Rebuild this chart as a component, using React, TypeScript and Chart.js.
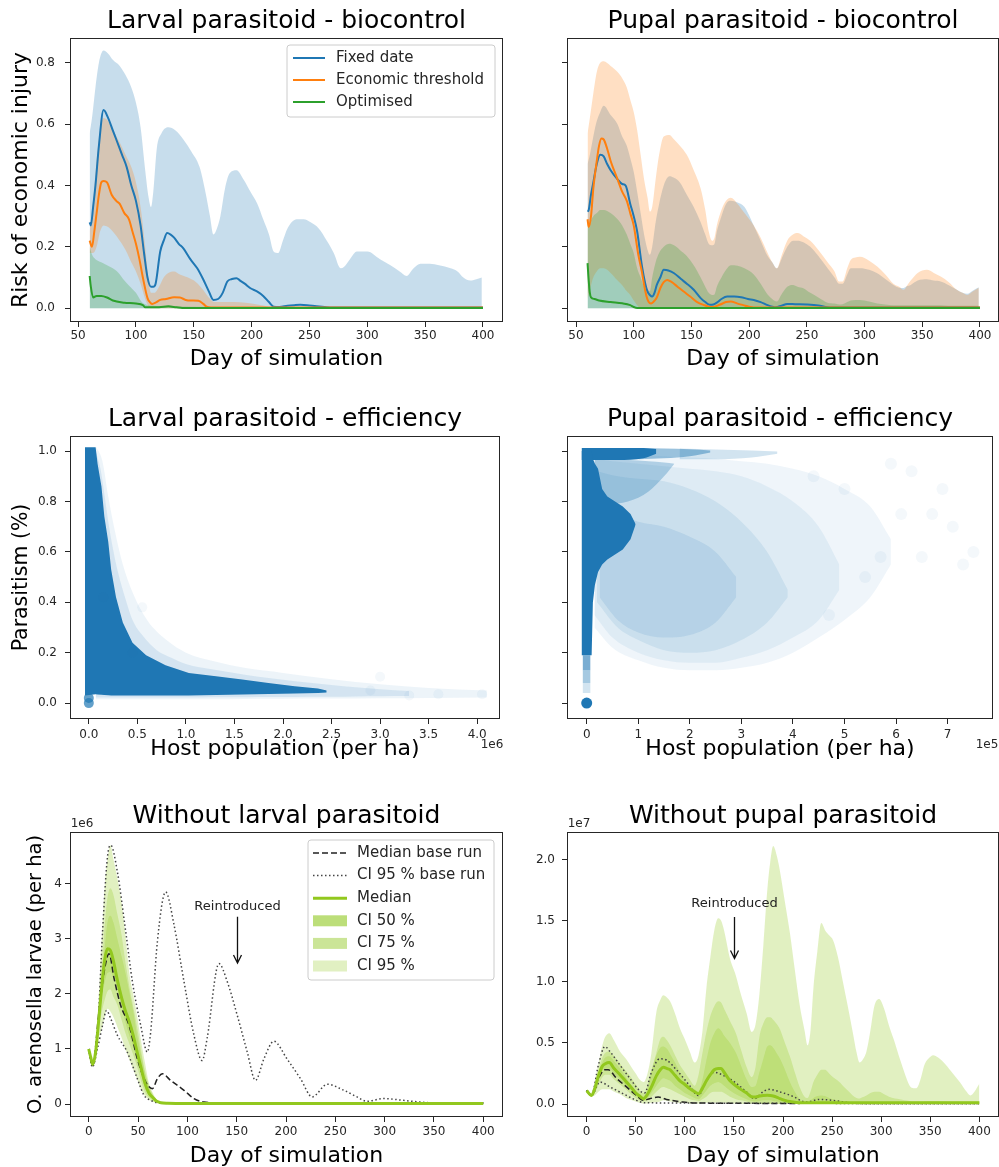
import { useEffect, useRef } from "react";
import { Chart, registerables } from "chart.js";

Chart.register(...registerables);

const FONT = '"DejaVu Sans", sans-serif';

// ================= Panel 1 : Larval parasitoid - biocontrol =================
const P1_FIX_X = [60,61,63,65,68,72,76,80,83,88,92,96,100,104,107,110,113,115,117,121,124,127,130,133,137,141,147,153,158,163,167,171,175,179,183,187,190,194,199,205,210,215,219,224,231,237,242,248,256,265,280,300,400];
const P1_FIX_Y = [0.28,0.27,0.33,0.40,0.53,0.646,0.62,0.58,0.55,0.50,0.46,0.40,0.35,0.27,0.18,0.10,0.07,0.07,0.08,0.185,0.22,0.245,0.24,0.23,0.21,0.195,0.16,0.13,0.095,0.055,0.027,0.03,0.05,0.087,0.095,0.098,0.09,0.08,0.065,0.054,0.04,0.02,0.005,0.004,0.008,0.01,0.011,0.01,0.006,0.003,0.002,0.002,0.002];
const P1_ECO_X = [60,62,64,66,68,70,72,75,79,83,86,90,94,97,100,103,106,110,112,114,117,121,126,133,138,143,148,154,158,161,165,400];
const P1_ECO_Y = [0.22,0.20,0.25,0.31,0.37,0.41,0.415,0.41,0.37,0.35,0.34,0.31,0.29,0.25,0.21,0.16,0.10,0.033,0.02,0.014,0.018,0.027,0.03,0.036,0.035,0.027,0.025,0.024,0.015,0.005,0.002,0.002];
const P1_OPT_X = [60,61,63,66,70,75,80,90,100,106,108,120,128,135,140,400];
const P1_OPT_Y = [0.105,0.07,0.035,0.04,0.04,0.035,0.025,0.018,0.015,0.01,0.003,0.003,0.006,0.003,0.001,0.001];
const P1_BB_X = [60,62,65,68,72,76,80,86,91,96,100,104,108,111,113,115,118,122,128,134,141,148,155,160,164,167,170,173,177,181,187,193,199,205,210,215,219,223,227,231,239,245,251,258,265,271,277,280,285,291,300,311,320,328,334,340,346,354,362,372,378,383,389,395,399];
const P1_BB_HI = [0.57,0.62,0.72,0.80,0.84,0.83,0.81,0.79,0.76,0.72,0.67,0.59,0.45,0.36,0.33,0.38,0.52,0.57,0.59,0.58,0.55,0.51,0.46,0.38,0.30,0.24,0.26,0.30,0.39,0.44,0.45,0.42,0.38,0.34,0.29,0.24,0.185,0.18,0.22,0.26,0.29,0.29,0.28,0.26,0.22,0.18,0.13,0.135,0.16,0.185,0.185,0.16,0.14,0.12,0.105,0.13,0.145,0.145,0.14,0.13,0.12,0.10,0.09,0.095,0.10];
const P1_OB_X = [60,63,66,69,72,76,80,86,91,96,100,104,108,111,113,116,120,124,128,133,138,145,152,158,163,168,175,185,195,205,215,222];
const P1_OB_HI = [0.25,0.35,0.48,0.58,0.62,0.61,0.58,0.54,0.50,0.46,0.41,0.33,0.20,0.09,0.05,0.05,0.07,0.10,0.115,0.12,0.11,0.10,0.085,0.06,0.035,0.02,0.02,0.02,0.018,0.012,0.005,0.0];
const P1_OB_LO = [0.18,0.18,0.20,0.25,0.27,0.265,0.25,0.22,0.19,0.15,0.12,0.08,0.03,0.005,0,0,0,0,0,0,0,0,0,0,0,0,0,0,0,0,0,0];
const P1_GB_X = [60,62,65,70,75,80,85,90,95,100,105,110,115,120,130,150,200,300,400];
const P1_GB_HI = [0.2,0.175,0.16,0.15,0.14,0.13,0.115,0.09,0.07,0.05,0.02,0.01,0.008,0.007,0.006,0.005,0.004,0.003,0.003];

// ================= Panel 2 : Pupal parasitoid - biocontrol =================
const P2_FIX_X = [60,61,63,65,68,71,74,77,80,86,90,93,97,100,103,107,110,112,114,116,118,120,123,126,130,135,141,146,152,158,162,166,169,172,176,181,187,193,199,204,210,216,220,223,228,233,240,250,260,268,280,400];
const P2_FIX_Y = [0.315,0.32,0.37,0.41,0.47,0.50,0.495,0.47,0.45,0.42,0.405,0.40,0.34,0.30,0.25,0.14,0.08,0.054,0.043,0.038,0.05,0.076,0.10,0.125,0.123,0.114,0.095,0.08,0.06,0.033,0.02,0.011,0.012,0.018,0.03,0.038,0.038,0.036,0.03,0.027,0.02,0.01,0.005,0.003,0.008,0.014,0.013,0.012,0.009,0.003,0.002,0.002];
const P2_ECO_X = [60,61,63,65,68,70,72,74,77,80,86,90,94,97,100,104,107,109,111,113,115,117,120,123,126,129,133,138,143,149,155,161,165,169,175,180,184,190,195,200,207,400];
const P2_ECO_Y = [0.29,0.265,0.30,0.39,0.48,0.53,0.553,0.55,0.52,0.48,0.42,0.38,0.35,0.31,0.27,0.174,0.12,0.076,0.04,0.02,0.015,0.02,0.035,0.065,0.085,0.092,0.085,0.07,0.055,0.038,0.02,0.01,0.005,0.004,0.012,0.02,0.022,0.015,0.01,0.005,0.002,0.002];
const P2_OPT_X = [60,61,62,63,66,70,80,90,97,100,103,400];
const P2_OPT_Y = [0.147,0.09,0.05,0.035,0.03,0.025,0.02,0.016,0.01,0.004,0.001,0.001];
const P2_B_X = [60,62,65,68,71,74,80,86,90,94,97,100,103,106,109,112,114,116,119,122,126,131,135,140,146,152,158,162,165,168,170,172,176,180,184,190,196,204,210,216,220,224,228,233,238,242,247,253,260,268,274,278,281,285,288,292,296,304,311,318,325,330,334,337,340,346,354,360,366,373,380,385,389,394,399];
const P2_BB_HI = [0.47,0.50,0.56,0.61,0.64,0.66,0.63,0.60,0.56,0.53,0.49,0.445,0.38,0.31,0.24,0.19,0.174,0.20,0.28,0.34,0.40,0.43,0.425,0.41,0.37,0.33,0.28,0.24,0.21,0.205,0.21,0.25,0.30,0.34,0.35,0.345,0.33,0.27,0.22,0.17,0.15,0.13,0.16,0.20,0.22,0.22,0.215,0.20,0.17,0.13,0.10,0.08,0.08,0.11,0.13,0.13,0.13,0.125,0.114,0.095,0.076,0.067,0.066,0.072,0.076,0.09,0.094,0.09,0.087,0.075,0.06,0.05,0.047,0.058,0.068];
const P2_OB_HI = [0.57,0.62,0.70,0.77,0.80,0.805,0.79,0.77,0.75,0.72,0.68,0.64,0.58,0.50,0.42,0.36,0.315,0.33,0.42,0.50,0.56,0.565,0.55,0.53,0.50,0.45,0.39,0.32,0.25,0.22,0.23,0.27,0.32,0.35,0.36,0.34,0.31,0.27,0.23,0.18,0.15,0.13,0.17,0.22,0.24,0.245,0.235,0.22,0.19,0.15,0.12,0.087,0.087,0.13,0.157,0.165,0.168,0.155,0.136,0.11,0.08,0.07,0.06,0.075,0.09,0.115,0.125,0.115,0.103,0.085,0.06,0.05,0.043,0.055,0.067];
const P2_OB_LO = [0.03,0.06,0.10,0.12,0.13,0.13,0.115,0.09,0.075,0.055,0.043,0.025,0.01,0,0,0,0,0,0,0,0,0,0,0,0,0,0,0,0,0,0,0,0,0,0,0,0,0,0,0,0,0,0,0,0,0,0,0,0,0,0,0,0,0,0,0,0,0,0,0,0,0,0,0,0,0,0,0,0,0,0,0,0,0,0];
const P2_GB_HI = [0.27,0.28,0.30,0.31,0.32,0.32,0.31,0.29,0.27,0.24,0.21,0.18,0.13,0.10,0.07,0.06,0.055,0.10,0.15,0.18,0.20,0.21,0.205,0.19,0.17,0.14,0.10,0.07,0.05,0.043,0.045,0.07,0.10,0.125,0.14,0.138,0.13,0.11,0.08,0.045,0.03,0.022,0.045,0.07,0.076,0.07,0.065,0.05,0.035,0.018,0.015,0.012,0.013,0.02,0.025,0.027,0.027,0.022,0.015,0.012,0.01,0.01,0.01,0.01,0.01,0.01,0.01,0.01,0.01,0.008,0.008,0.008,0.008,0.008,0.008];

// ================= Panel 3 : Larval parasitoid - efficiency (x in 1e6) =================
const P3_DENSE_X = [-0.04,0.07,0.09,0.13,0.16,0.20,0.23,0.28,0.35,0.45,0.59,0.79,1.03,1.31,1.58,1.85,2.12,2.36,2.45];
const P3_DENSE_HI = [1.015,1.015,0.95,0.86,0.74,0.64,0.53,0.42,0.32,0.24,0.19,0.15,0.12,0.107,0.094,0.08,0.067,0.058,0.05];
const P3_DENSE_LO = [0.03,0.035,0.034,0.033,0.032,0.031,0.03,0.03,0.03,0.03,0.03,0.03,0.03,0.032,0.034,0.036,0.038,0.04,0.042];
const P3_HALO1_X = [0.07,0.14,0.2,0.27,0.35,0.45,0.6,0.8,1.0,1.3,1.6,2.0,2.5,3.0,3.5,4.1];
const P3_HALO1_HI = [1.02,0.96,0.82,0.68,0.55,0.44,0.33,0.25,0.2,0.165,0.14,0.12,0.095,0.075,0.06,0.05];
const P3_HALO1_LO = [0.015,0.015,0.015,0.015,0.015,0.015,0.015,0.015,0.015,0.015,0.016,0.017,0.018,0.019,0.02,0.022];
const P3_HALO2_X = [0.07,0.12,0.16,0.2,0.25,0.3,0.38,0.45,0.55,0.7,0.85,1.0,1.25,1.5,1.75,2.0,2.25,2.5,2.75,3.0,3.3];
const P3_HALO2_HI = [1.0,0.93,0.83,0.72,0.61,0.52,0.41,0.33,0.27,0.21,0.18,0.155,0.135,0.12,0.105,0.093,0.082,0.072,0.063,0.055,0.048];
const P3_HALO2_LO = [0.022,0.022,0.022,0.022,0.022,0.022,0.022,0.022,0.022,0.022,0.022,0.022,0.023,0.023,0.024,0.024,0.025,0.025,0.026,0.027,0.028];
const P3_OUT_X = [3.0,0.15,0.55,3.6,4.05,3.3,2.9,0.45];
const P3_OUT_Y = [0.105,0.42,0.38,0.035,0.035,0.03,0.05,0.2];
const P3_ZERO_X = [0, 0];
const P3_ZERO_Y = [0, 0.02];

// ================= Panel 4 : Pupal parasitoid - efficiency (x in 1e5) =================
const P4_L1_X = [0.15,0.5,1.0,1.5,2.0,2.5,3.0,3.5,4.0,4.5,5.0,5.5,5.9];
const P4_L1_HI = [0.99,0.99,0.985,0.98,0.975,0.97,0.96,0.95,0.93,0.9,0.85,0.78,0.65];
const P4_L1_LO = [0.3,0.22,0.17,0.14,0.13,0.13,0.14,0.16,0.2,0.26,0.33,0.42,0.55];
const P4_L2_X = [0.15,0.5,1.0,1.5,2.0,2.5,3.0,3.5,4.0,4.5,4.9];
const P4_L2_HI = [0.97,0.96,0.95,0.94,0.93,0.92,0.9,0.86,0.8,0.7,0.55];
const P4_L2_LO = [0.35,0.26,0.2,0.17,0.16,0.16,0.18,0.21,0.26,0.33,0.45];
const P4_L3_X = [0.2,0.6,1.0,1.5,2.0,2.5,3.0,3.5,3.9];
const P4_L3_HI = [0.92,0.9,0.89,0.88,0.85,0.8,0.72,0.6,0.45];
const P4_L3_LO = [0.4,0.3,0.25,0.21,0.2,0.21,0.25,0.32,0.42];
const P4_L4_X = [0.25,0.6,1.0,1.5,2.0,2.5,2.9];
const P4_L4_HI = [0.8,0.75,0.72,0.7,0.66,0.6,0.5];
const P4_L4_LO = [0.42,0.33,0.28,0.26,0.27,0.32,0.42];
const P4_SEMI_X = [0.15,0.4,0.8,1.2,1.5,1.7];
const P4_SEMI_HI = [0.975,0.97,0.965,0.96,0.955,0.95];
const P4_SEMI_LO = [0.8,0.79,0.8,0.84,0.9,0.95];
const P4_TOPA_X = [-0.1,0.6,1.1,1.35];
const P4_TOPA_HI = [1.012,1.012,1.012,1.008];
const P4_TOPA_LO = [0.965,0.965,0.972,0.99];
const P4_TOPB_X = [1.0,1.5,2.0,2.4];
const P4_TOPB_HI = [1.012,1.01,1.007,1.002];
const P4_TOPB_LO = [0.968,0.972,0.98,0.995];
const P4_TOPC_X = [1.8,2.5,3.2,3.7];
const P4_TOPC_HI = [1.01,1.006,1.002,0.998];
const P4_TOPC_LO = [0.968,0.968,0.975,0.99];
const P4_DENSE_X = [-0.1,0.096,0.12,0.16,0.22,0.3,0.4,0.55,0.7,0.85,0.95];
const P4_DENSE_HI = [1.0,1.0,0.97,0.95,0.93,0.85,0.82,0.8,0.78,0.75,0.71];
const P4_DENSE_LO = [0.19,0.19,0.4,0.47,0.52,0.55,0.57,0.59,0.61,0.65,0.71];
const P4_FADE_X = [-0.08,0.075];
const P4_FADE1_HI = [0.19,0.19];
const P4_FADE1_LO = [0.13,0.13];
const P4_FADE2_HI = [0.13,0.13];
const P4_FADE2_LO = [0.08,0.08];
const P4_FADE3_HI = [0.08,0.08];
const P4_FADE3_LO = [0.04,0.04];
const P4_OUT_X = [6.3,6.9,7.5,7.3,6.5,5.7,5.0,4.4,6.1,7.1,5.4,4.7,5.9,6.7];
const P4_OUT_Y = [0.92,0.85,0.6,0.55,0.58,0.58,0.85,0.9,0.75,0.7,0.5,0.35,0.95,0.75];
const P4_ZERO_X = [0];
const P4_ZERO_Y = [0];

// ================= Panel 5 : Without larval parasitoid (y in 1e6) =================
const P5_X = [0,2,4,7,10,13,16,19,22,25,29,33,37,41,45,49,53,57,61,65,69,73,80,100,150,200,300,400];
const P5_MED = [1.0,0.85,0.72,0.95,1.5,2.1,2.6,2.82,2.79,2.6,2.25,1.95,1.7,1.5,1.25,0.95,0.66,0.38,0.2,0.12,0.05,0.025,0.015,0.01,0.01,0.01,0.01,0.01];
const P5_C95_HI = [1.02,0.88,0.74,1.05,1.9,2.9,3.9,4.45,4.7,4.45,4.1,3.7,3.1,2.4,2.0,1.6,1.15,0.75,0.38,0.2,0.08,0.04,0.02,0.02,0.02,0.02,0.02,0.02];
const P5_C95_LO = [0.98,0.84,0.70,0.9,1.2,1.35,1.58,1.73,1.68,1.58,1.4,1.22,1.0,0.82,0.63,0.45,0.27,0.15,0.08,0.04,0.02,0.01,0.005,0.005,0.005,0.005,0.005,0.005];
const P5_C75_HI = [1.01,0.87,0.73,1.0,1.7,2.4,3.2,3.75,3.92,3.8,3.45,3.1,2.6,2.15,1.78,1.4,0.98,0.6,0.35,0.17,0.08,0.035,0.018,0.015,0.015,0.015,0.015,0.015];
const P5_C75_LO = [0.99,0.85,0.71,0.92,1.3,1.65,1.88,2.05,2.08,1.95,1.8,1.55,1.3,1.1,0.9,0.68,0.42,0.22,0.12,0.06,0.025,0.012,0.008,0.007,0.007,0.007,0.007,0.007];
const P5_C50_HI = [1.0,0.86,0.72,0.97,1.55,2.2,2.8,3.3,3.42,3.3,3.0,2.7,2.4,2.05,1.7,1.25,0.9,0.56,0.3,0.15,0.07,0.03,0.015,0.012,0.012,0.012,0.012,0.012];
const P5_C50_LO = [0.995,0.855,0.715,0.93,1.4,1.9,2.2,2.38,2.4,2.3,2.1,1.8,1.5,1.25,1.05,0.8,0.55,0.3,0.16,0.08,0.035,0.015,0.01,0.008,0.008,0.008,0.008,0.008];
const P5_BMED_X = [0,4,10,15.6,20.6,25.7,32.4,40.9,49.3,57.8,64.5,69.6,74.6,83,96.6,106.7,116.8,133.7,400];
const P5_BMED_Y = [1.0,0.70,1.61,2.4,2.73,2.28,1.79,1.43,0.82,0.40,0.28,0.46,0.55,0.43,0.25,0.10,0.036,0.02,0.02];
const P5_BHI_X = [0,3.7,8.8,14,19,22.3,29,37.5,44.3,52.7,59.4,62.8,69.6,78,86.5,96.6,106.7,115,120,132,140.5,150.6,160.7,169,177.6,187.7,201,214.7,226.6,241.8,258.6,272,282,299,319,336,353,400];
const P5_BHI_Y = [1.0,0.70,1.25,3.13,4.49,4.70,4.22,3.13,2.22,1.43,0.945,1.31,2.95,3.85,3.25,2.22,1.25,0.79,1.19,2.55,2.22,1.61,0.945,0.43,0.82,1.14,0.82,0.46,0.13,0.36,0.25,0.13,0.05,0.10,0.067,0.036,0.02,0.02];
const P5_BLO_X = [0,3.7,8.8,14,18,22.3,29,39,49.3,56,62.8,72,400];
const P5_BLO_Y = [1.0,0.67,1.0,1.43,1.70,1.55,1.25,0.945,0.46,0.16,0.067,0.02,0.02];

// ================= Panel 6 : Without pupal parasitoid (y in 1e7) =================
const P6_X = [0,5,8,12,16,19,23,28,34,40,45,50,54,58,62,66,71,75,78,82,85,90,95,100,105,110,114,118,122,126,130,134,137,140,146,152,157,163,168,172,176,180,184,187,190,194,197,202,207,212,217,222,225,228,231,235,239,243,247,251,256,261,266,271,275,278,281,285,289,293,298,303,308,314,319,324,329,333,336,340,344,348,353,358,366,373,380,386,391,395,400];
const P6_MED = [0.11,0.07,0.12,0.23,0.31,0.33,0.34,0.29,0.24,0.185,0.14,0.09,0.065,0.044,0.08,0.14,0.23,0.28,0.30,0.29,0.28,0.235,0.19,0.16,0.126,0.10,0.085,0.13,0.19,0.24,0.28,0.29,0.29,0.26,0.19,0.15,0.12,0.09,0.06,0.058,0.065,0.07,0.072,0.07,0.066,0.055,0.044,0.03,0.02,0.015,0.01,0.01,0.01,0.01,0.01,0.01,0.01,0.01,0.01,0.01,0.01,0.01,0.01,0.01,0.01,0.01,0.01,0.01,0.01,0.01,0.01,0.01,0.01,0.01,0.01,0.01,0.01,0.01,0.01,0.01,0.01,0.01,0.01,0.01,0.01,0.01,0.01,0.01,0.01,0.01,0.01];
const P6_C95_HI = [0.11,0.07,0.18,0.33,0.48,0.55,0.58,0.52,0.43,0.37,0.31,0.25,0.20,0.18,0.25,0.42,0.75,0.85,0.89,0.87,0.84,0.74,0.62,0.53,0.43,0.34,0.40,0.60,0.95,1.20,1.42,1.52,1.50,1.42,1.19,1.05,0.90,0.74,0.59,0.65,0.90,1.30,1.75,1.98,2.11,2.02,1.90,1.65,1.40,1.10,0.81,0.60,0.48,0.60,0.95,1.25,1.48,1.42,1.38,1.34,1.20,1.00,0.80,0.59,0.42,0.34,0.36,0.43,0.60,0.80,0.86,0.78,0.64,0.50,0.37,0.25,0.15,0.13,0.13,0.20,0.32,0.37,0.40,0.38,0.32,0.25,0.18,0.11,0.07,0.10,0.167];
const P6_C95_LO = [0.09,0.065,0.07,0.10,0.12,0.12,0.12,0.10,0.08,0.05,0.035,0.02,0.01,0.005,0.005,0.01,0.015,0.02,0.03,0.025,0.02,0.015,0.01,0.01,0.005,0.005,0.005,0.005,0.01,0.01,0.01,0.01,0.01,0.01,0.005,0.005,0,0,0,0,0,0,0,0,0,0,0,0,0,0,0,0,0,0,0,0,0,0,0,0,0,0,0,0,0,0,0,0,0,0,0,0,0,0,0,0,0,0,0,0,0,0,0,0,0,0,0,0,0,0,0];
const P6_C75_HI = [0.105,0.07,0.15,0.28,0.38,0.42,0.43,0.39,0.33,0.27,0.22,0.16,0.11,0.09,0.15,0.27,0.42,0.53,0.55,0.52,0.48,0.40,0.32,0.26,0.20,0.15,0.24,0.42,0.59,0.72,0.80,0.84,0.83,0.78,0.68,0.58,0.45,0.30,0.22,0.30,0.55,0.66,0.71,0.71,0.69,0.65,0.61,0.50,0.39,0.26,0.14,0.06,0.05,0.10,0.18,0.24,0.28,0.28,0.25,0.22,0.19,0.15,0.11,0.07,0.05,0.045,0.055,0.07,0.09,0.10,0.10,0.08,0.06,0.045,0.04,0.03,0.025,0.02,0.02,0.02,0.022,0.025,0.025,0.025,0.022,0.02,0.02,0.02,0.02,0.02,0.02];
const P6_C75_LO = [0.095,0.068,0.09,0.16,0.22,0.24,0.24,0.20,0.16,0.12,0.08,0.05,0.03,0.02,0.03,0.06,0.10,0.13,0.14,0.13,0.12,0.10,0.08,0.06,0.04,0.03,0.025,0.04,0.06,0.09,0.10,0.10,0.10,0.09,0.06,0.04,0.03,0.02,0.01,0.005,0.003,0.003,0.003,0.003,0.003,0.003,0.003,0.003,0.003,0.003,0.003,0.003,0.003,0.003,0.003,0.003,0.003,0.003,0.003,0.003,0.003,0.003,0.003,0.003,0.003,0.003,0.003,0.003,0.003,0.003,0.003,0.003,0.003,0.003,0.003,0.003,0.003,0.003,0.003,0.003,0.003,0.003,0.003,0.003,0.003,0.003,0.003,0.003,0.003,0.003,0.003];
const P6_C50_HI = [0.10,0.07,0.13,0.25,0.34,0.38,0.39,0.35,0.29,0.22,0.16,0.11,0.08,0.065,0.12,0.27,0.40,0.46,0.47,0.45,0.41,0.34,0.26,0.19,0.15,0.12,0.10,0.20,0.36,0.50,0.58,0.62,0.60,0.56,0.50,0.42,0.32,0.20,0.14,0.15,0.26,0.37,0.47,0.48,0.46,0.41,0.37,0.28,0.18,0.10,0.04,0.015,0.015,0.03,0.05,0.065,0.07,0.065,0.05,0.04,0.03,0.025,0.02,0.015,0.015,0.015,0.015,0.015,0.015,0.015,0.015,0.015,0.015,0.015,0.015,0.015,0.015,0.015,0.015,0.015,0.015,0.015,0.015,0.015,0.015,0.015,0.015,0.015,0.015,0.015,0.015];
const P6_C50_LO = [0.10,0.07,0.10,0.20,0.27,0.29,0.29,0.25,0.20,0.15,0.11,0.07,0.04,0.03,0.05,0.09,0.15,0.19,0.21,0.20,0.19,0.15,0.12,0.09,0.07,0.05,0.04,0.07,0.11,0.15,0.17,0.18,0.17,0.15,0.11,0.08,0.06,0.04,0.025,0.02,0.025,0.03,0.03,0.03,0.025,0.02,0.015,0.01,0.005,0.005,0.005,0.005,0.005,0.005,0.005,0.005,0.005,0.005,0.005,0.005,0.005,0.005,0.005,0.005,0.005,0.005,0.005,0.005,0.005,0.005,0.005,0.005,0.005,0.005,0.005,0.005,0.005,0.005,0.005,0.005,0.005,0.005,0.005,0.005,0.005,0.005,0.005,0.005,0.005,0.005,0.005];
const P6_BMED_X = [0,5,12,18.6,22,30.5,40.6,50.8,57.6,64.4,72.8,81.3,98,115,217];
const P6_BMED_Y = [0.11,0.07,0.21,0.28,0.28,0.21,0.14,0.07,0.03,0.044,0.057,0.038,0.016,0.008,0.005];
const P6_BHI_X = [0,5,12,18.6,23.7,33.8,44,54,59,66,74.5,81.3,91.5,105,113.5,122,130,139,149,162.7,171,179.6,186,196.6,210,223.7,237,251,268,285,400];
const P6_BHI_Y = [0.11,0.07,0.32,0.47,0.43,0.32,0.21,0.11,0.09,0.26,0.37,0.36,0.28,0.15,0.07,0.19,0.26,0.235,0.19,0.10,0.044,0.10,0.12,0.10,0.063,0.016,0.038,0.03,0.01,0.003,0.003];
const P6_BLO_X = [0,5,13.5,23.7,37,50.8,59,400];
const P6_BLO_Y = [0.11,0.07,0.18,0.14,0.085,0.03,0.01,0.005];

// ================= ticks =================
const DAY_TICKS_A = [50,100,150,200,250,300,350,400];
const DAY_LABELS_A = ["50","100","150","200","250","300","350","400"];
const DAY_TICKS_B = [0,50,100,150,200,250,300,350,400];
const DAY_LABELS_B = ["0","50","100","150","200","250","300","350","400"];
const RISK_TICKS = [0,0.2,0.4,0.6,0.8];
const RISK_LABELS = ["0.0","0.2","0.4","0.6","0.8"];
const PAR_TICKS = [0,0.2,0.4,0.6,0.8,1.0];
const PAR_LABELS = ["0.0","0.2","0.4","0.6","0.8","1.0"];
const HOST6_TICKS = [0,0.5,1,1.5,2,2.5,3,3.5,4];
const HOST6_LABELS = ["0.0","0.5","1.0","1.5","2.0","2.5","3.0","3.5","4.0"];
const HOST5_TICKS = [0,1,2,3,4,5,6,7];
const HOST5_LABELS = ["0","1","2","3","4","5","6","7"];
const LARV_TICKS = [0,1,2,3,4];
const LARV_LABELS = ["0","1","2","3","4"];
const PUP_TICKS = [0,0.5,1,1.5,2];
const PUP_LABELS = ["0.0","0.5","1.0","1.5","2.0"];

// ================= colours =================
const DARK = "#262626";
const BLUE = "#1f77b4", ORANGE = "#ff7f0e", GREEN = "#2ca02c";
const BLUE_A = "rgba(31,119,180,0.25)", ORANGE_A = "rgba(255,127,14,0.25)", GREEN_A = "rgba(44,160,44,0.25)";
const SC = (a: number) => `rgba(31,119,180,${a})`;
const YG_LINE = "rgb(146,200,30)";
const YG_A = "rgba(154,205,50,0.3)";
const CI50_C = "rgb(188,222,121)", CI75_C = "rgb(203,229,151)", CI95_C = "rgb(225,240,194)";

// ================= dataset helpers =================
const pts = (xs: number[], ys: number[]) => xs.map((x, i) => ({ x, y: ys[i] }));
const base: any = { pointRadius: 0, pointHoverRadius: 0, pointHitRadius: 0, spanGaps: true, tension: 0 };
const interp = (s: boolean) => (s ? "monotone" : "default");
function line(xs: number[], ys: number[], color: string, width: number, dash: number[] = [], smooth = true) {
  return { ...base, data: pts(xs, ys), borderColor: color, backgroundColor: color, borderWidth: width, borderDash: dash, fill: false, cubicInterpolationMode: interp(smooth), borderCapStyle: "butt", borderJoinStyle: "round" };
}
function band(xs: number[], hi: number[], lo: number[], color: string, smooth = true) {
  return [
    { ...base, data: pts(xs, hi), borderColor: "rgba(0,0,0,0)", borderWidth: 0, fill: false, cubicInterpolationMode: interp(smooth) },
    { ...base, data: pts(xs, lo), borderColor: "rgba(0,0,0,0)", borderWidth: 0, backgroundColor: color, fill: "-1", cubicInterpolationMode: interp(smooth) },
  ];
}
function area(xs: number[], hi: number[], color: string, smooth = true) {
  return { ...base, data: pts(xs, hi), borderColor: "rgba(0,0,0,0)", borderWidth: 0, backgroundColor: color, fill: "origin", cubicInterpolationMode: interp(smooth) };
}
function dots(xs: number[], ys: number[], color: string, r: number) {
  return { ...base, data: pts(xs, ys), showLine: false, pointRadius: r, pointBackgroundColor: color, pointBorderWidth: 0, pointBorderColor: "rgba(0,0,0,0)", fill: false };
}

// ================= panel specs =================
const ROW1 = { y: 0, h: 380 }, ROW2 = { y: 380, h: 395 }, ROW3 = { y: 775, h: 392 };
const LEFT = { x: 0, w: 505 }, RIGHT = { x: 505, w: 494 };

const LEG_P1 = {
  right: 8, top: 7, w: 208, h: 72, row0: 13, rowH: 22, sx0: 6, sx1: 38, tx: 49, font: 15, ph: 11,
  items: [
    { kind: "line", label: "Fixed date", color: BLUE, width: 2 },
    { kind: "line", label: "Economic threshold", color: ORANGE, width: 2 },
    { kind: "line", label: "Optimised", color: GREEN, width: 2 },
  ],
};
const LEG_P5 = {
  right: 9, top: 8, w: 186, h: 140, row0: 13, rowH: 22.6, sx0: 5, sx1: 39, tx: 49, font: 15, ph: 11,
  items: [
    { kind: "line", label: "Median base run", color: "#222", width: 1.5, dash: [6, 3] },
    { kind: "line", label: "CI 95 % base run", color: "#444", width: 1.5, dash: [1.5, 2.5] },
    { kind: "line", label: "Median", color: YG_LINE, width: 3 },
    { kind: "patch", label: "CI 50 %", color: CI50_C },
    { kind: "patch", label: "CI 75 %", color: CI75_C },
    { kind: "patch", label: "CI 95 %", color: CI95_C },
  ],
};

const PANELS: any[] = [
  {
    id: "p1", box: { x: LEFT.x, w: LEFT.w, ...ROW1 }, plot: { l: 70, t: 38, r: 503, b: 322 },
    xr: [43, 417.3], yr: [-0.045, 0.881],
    xTicks: DAY_TICKS_A, xLabels: DAY_LABELS_A, yTicks: RISK_TICKS, yLabels: RISK_LABELS,
    title: "Larval parasitoid - biocontrol", titleY: 28,
    xTitle: "Day of simulation", xTitleSize: 22, xTitlePad: 10,
    yTitle: "Risk of economic injury", yTitleSize: 22, yTitlePad: 10,
    xTickPad: 2, yTickPad: 10, legend: LEG_P1,
    datasets: [
      area(P1_BB_X, P1_BB_HI, BLUE_A),
      ...band(P1_OB_X, P1_OB_HI, P1_OB_LO, ORANGE_A),
      area(P1_GB_X, P1_GB_HI, GREEN_A),
      line(P1_FIX_X, P1_FIX_Y, BLUE, 2),
      line(P1_ECO_X, P1_ECO_Y, ORANGE, 2),
      line(P1_OPT_X, P1_OPT_Y, GREEN, 2),
    ],
  },
  {
    id: "p2", box: { x: RIGHT.x, w: RIGHT.w, ...ROW1 }, plot: { l: 567, t: 38, r: 999, b: 322 },
    xr: [42.2, 416.5], yr: [-0.045, 0.881],
    xTicks: DAY_TICKS_A, xLabels: DAY_LABELS_A, yTicks: RISK_TICKS, yLabels: null,
    title: "Pupal parasitoid - biocontrol", titleY: 28,
    xTitle: "Day of simulation", xTitleSize: 22, xTitlePad: 10,
    yTitle: "", yTitleSize: 22, yTitlePad: 0,
    xTickPad: 2, yTickPad: 10,
    datasets: [
      area(P2_B_X, P2_BB_HI, BLUE_A),
      ...band(P2_B_X, P2_OB_HI, P2_OB_LO, ORANGE_A),
      area(P2_B_X, P2_GB_HI, GREEN_A),
      line(P2_FIX_X, P2_FIX_Y, BLUE, 2),
      line(P2_ECO_X, P2_ECO_Y, ORANGE, 2),
      line(P2_OPT_X, P2_OPT_Y, GREEN, 2),
    ],
  },
  {
    id: "p3", box: { x: LEFT.x, w: LEFT.w, ...ROW2 }, plot: { l: 70, t: 436, r: 503, b: 719 },
    xr: [-0.194, 4.235], yr: [-0.063, 1.06],
    xTicks: HOST6_TICKS, xLabels: HOST6_LABELS, yTicks: PAR_TICKS, yLabels: PAR_LABELS,
    title: "Larval parasitoid - efficiency", titleY: 426,
    xTitle: "Host population (per ha)", xTitleSize: 22, xTitlePad: 14.5,
    yTitle: "Parasitism (%)", yTitleSize: 20.5, yTitlePad: 11.5,
    xTickPad: 4, yTickPad: 8, offset: { text: "1e6", x: 492, y: 745 },
    datasets: [
      ...band(P3_HALO1_X, P3_HALO1_HI, P3_HALO1_LO, SC(0.08), true),
      ...band(P3_HALO2_X, P3_HALO2_HI, P3_HALO2_LO, SC(0.12), true),
      ...band(P3_DENSE_X, P3_DENSE_HI, P3_DENSE_LO, BLUE, false),
      dots(P3_OUT_X, P3_OUT_Y, SC(0.05), 5),
      dots(P3_ZERO_X, P3_ZERO_Y, SC(0.7), 5),
    ],
  },
  {
    id: "p4", box: { x: RIGHT.x, w: RIGHT.w, ...ROW2 }, plot: { l: 567, t: 436, r: 999, b: 719 },
    xr: [-0.382, 7.88], yr: [-0.063, 1.06],
    xTicks: HOST5_TICKS, xLabels: HOST5_LABELS, yTicks: PAR_TICKS, yLabels: null,
    title: "Pupal parasitoid - efficiency", titleY: 426,
    xTitle: "Host population (per ha)", xTitleSize: 22, xTitlePad: 14.5,
    yTitle: "", yTitleSize: 22, yTitlePad: 0,
    xTickPad: 4, yTickPad: 8, offset: { text: "1e5", x: 987, y: 745 },
    datasets: [
      ...band(P4_L1_X, P4_L1_HI, P4_L1_LO, SC(0.07), true),
      ...band(P4_L2_X, P4_L2_HI, P4_L2_LO, SC(0.08), true),
      ...band(P4_L3_X, P4_L3_HI, P4_L3_LO, SC(0.1), true),
      ...band(P4_L4_X, P4_L4_HI, P4_L4_LO, SC(0.12), true),
      ...band(P4_SEMI_X, P4_SEMI_HI, P4_SEMI_LO, SC(0.3), true),
      ...band(P4_TOPC_X, P4_TOPC_HI, P4_TOPC_LO, SC(0.2), true),
      ...band(P4_TOPB_X, P4_TOPB_HI, P4_TOPB_LO, SC(0.45), true),
      ...band(P4_TOPA_X, P4_TOPA_HI, P4_TOPA_LO, BLUE, true),
      ...band(P4_DENSE_X, P4_DENSE_HI, P4_DENSE_LO, BLUE, false),
      ...band(P4_FADE_X, P4_FADE1_HI, P4_FADE1_LO, SC(0.6), false),
      ...band(P4_FADE_X, P4_FADE2_HI, P4_FADE2_LO, SC(0.4), false),
      ...band(P4_FADE_X, P4_FADE3_HI, P4_FADE3_LO, SC(0.2), false),
      dots(P4_OUT_X, P4_OUT_Y, SC(0.05), 6),
      dots(P4_ZERO_X, P4_ZERO_Y, BLUE, 5.5),
    ],
  },
  {
    id: "p5", box: { x: LEFT.x, w: LEFT.w, ...ROW3 }, plot: { l: 70, t: 832, r: 503, b: 1117 },
    xr: [-19, 420], yr: [-0.235, 4.94],
    xTicks: DAY_TICKS_B, xLabels: DAY_LABELS_B, yTicks: LARV_TICKS, yLabels: LARV_LABELS,
    title: "Without larval parasitoid", titleY: 823,
    xTitle: "Day of simulation", xTitleSize: 22, xTitlePad: 0,
    yTitle: "O. arenosella larvae (per ha)", yTitleSize: 19.5, yTitlePad: 26,
    xTickPad: 3, yTickPad: 3, offset: { text: "1e6", x: 82, y: 824 }, legend: LEG_P5,
    annot: { text: "Reintroduced", x: 150, textY: 3.58, tailY: 3.4, tipY: 2.56 },
    datasets: [
      ...band(P5_X, P5_C95_HI, P5_C95_LO, YG_A),
      ...band(P5_X, P5_C75_HI, P5_C75_LO, YG_A),
      ...band(P5_X, P5_C50_HI, P5_C50_LO, YG_A),
      line(P5_BMED_X, P5_BMED_Y, "#222", 1.5, [6, 3]),
      line(P5_BHI_X, P5_BHI_Y, "#444", 1.5, [1.5, 2.5]),
      line(P5_BLO_X, P5_BLO_Y, "#444", 1.5, [1.5, 2.5]),
      line(P5_X, P5_MED, YG_LINE, 3),
    ],
  },
  {
    id: "p6", box: { x: RIGHT.x, w: RIGHT.w, ...ROW3 }, plot: { l: 567, t: 832, r: 999, b: 1117 },
    xr: [-20, 420], yr: [-0.106, 2.225],
    xTicks: DAY_TICKS_B, xLabels: DAY_LABELS_B, yTicks: PUP_TICKS, yLabels: PUP_LABELS,
    title: "Without pupal parasitoid", titleY: 823,
    xTitle: "Day of simulation", xTitleSize: 22, xTitlePad: 0,
    yTitle: "", yTitleSize: 22, yTitlePad: 0,
    xTickPad: 3, yTickPad: 7, offset: { text: "1e7", x: 579, y: 824 },
    annot: { text: "Reintroduced", x: 150, textY: 1.64, tailY: 1.53, tipY: 1.19 },
    datasets: [
      ...band(P6_X, P6_C95_HI, P6_C95_LO, YG_A),
      ...band(P6_X, P6_C75_HI, P6_C75_LO, YG_A),
      ...band(P6_X, P6_C50_HI, P6_C50_LO, YG_A),
      line(P6_BMED_X, P6_BMED_Y, "#222", 1.5, [6, 3]),
      line(P6_BHI_X, P6_BHI_Y, "#444", 1.5, [1.5, 2.5]),
      line(P6_BLO_X, P6_BLO_Y, "#444", 1.5, [1.5, 2.5]),
      line(P6_X, P6_MED, YG_LINE, 3),
    ],
  },
];

// ================= decoration plugin =================
function decorPlugin(spec: any) {
  return {
    id: "decor_" + spec.id,
    afterDraw(chart: any) {
      const ctx = chart.ctx;
      const a = chart.chartArea;
      const bx = spec.box.x, by = spec.box.y;
      ctx.save();
      ctx.setLineDash([]);
      ctx.strokeStyle = DARK;
      ctx.lineWidth = 1;
      ctx.strokeRect(a.left + 0.5, a.top + 0.5, a.right - a.left - 1, a.bottom - a.top - 1);
      ctx.fillStyle = "#000";
      ctx.font = `25px ${FONT}`;
      ctx.textAlign = "center";
      ctx.textBaseline = "alphabetic";
      ctx.fillText(spec.title, (a.left + a.right) / 2, spec.titleY - by);
      if (spec.offset) {
        ctx.font = `12px ${FONT}`;
        ctx.fillStyle = DARK;
        ctx.textBaseline = "middle";
        ctx.fillText(spec.offset.text, spec.offset.x - bx, spec.offset.y - by);
      }
      if (spec.annot) {
        const an = spec.annot;
        const xs = chart.scales.x, ys = chart.scales.y;
        const px = Math.round(xs.getPixelForValue(an.x)) + 0.5;
        const ty = ys.getPixelForValue(an.textY);
        const y0 = ys.getPixelForValue(an.tailY);
        const y1 = ys.getPixelForValue(an.tipY);
        ctx.font = `13px ${FONT}`;
        ctx.fillStyle = "#222";
        ctx.textAlign = "center";
        ctx.textBaseline = "middle";
        ctx.fillText(an.text, px, ty);
        ctx.strokeStyle = "#111";
        ctx.lineWidth = 1.3;
        ctx.beginPath();
        ctx.moveTo(px, y0);
        ctx.lineTo(px, y1);
        ctx.moveTo(px - 4, y1 - 8);
        ctx.lineTo(px, y1);
        ctx.lineTo(px + 4, y1 - 8);
        ctx.stroke();
      }
      if (spec.legend) {
        const L = spec.legend;
        const lx = a.right - L.right - L.w;
        const ly = a.top + L.top;
        const r = 3;
        ctx.beginPath();
        ctx.moveTo(lx + r, ly);
        ctx.lineTo(lx + L.w - r, ly);
        ctx.arcTo(lx + L.w, ly, lx + L.w, ly + r, r);
        ctx.lineTo(lx + L.w, ly + L.h - r);
        ctx.arcTo(lx + L.w, ly + L.h, lx + L.w - r, ly + L.h, r);
        ctx.lineTo(lx + r, ly + L.h);
        ctx.arcTo(lx, ly + L.h, lx, ly + L.h - r, r);
        ctx.lineTo(lx, ly + r);
        ctx.arcTo(lx, ly, lx + r, ly, r);
        ctx.closePath();
        ctx.fillStyle = "rgba(255,255,255,0.8)";
        ctx.fill();
        ctx.strokeStyle = "#cccccc";
        ctx.lineWidth = 1;
        ctx.stroke();
        L.items.forEach((it: any, i: number) => {
          const cy = ly + L.row0 + i * L.rowH;
          if (it.kind === "line") {
            ctx.beginPath();
            ctx.setLineDash(it.dash || []);
            ctx.strokeStyle = it.color;
            ctx.lineWidth = it.width;
            ctx.moveTo(lx + L.sx0, cy);
            ctx.lineTo(lx + L.sx1, cy);
            ctx.stroke();
            ctx.setLineDash([]);
          } else {
            ctx.fillStyle = it.color;
            ctx.fillRect(lx + L.sx0, cy - L.ph / 2, L.sx1 - L.sx0, L.ph);
          }
          ctx.fillStyle = DARK;
          ctx.font = `${L.font}px ${FONT}`;
          ctx.textAlign = "left";
          ctx.textBaseline = "middle";
          ctx.fillText(it.label, lx + L.tx, cy);
        });
      }
      ctx.restore();
    },
  };
}

function buildConfig(spec: any) {
  const n = spec.datasets.length;
  const datasets = spec.datasets.map((d: any, i: number) => ({ ...d, order: n - i }));
  const gridOpts = { display: true, drawOnChartArea: false, drawTicks: true, tickLength: 5, tickWidth: 1, tickColor: DARK, color: DARK, lineWidth: 1 };
  return {
    type: "line",
    data: { datasets },
    options: {
      responsive: false,
      maintainAspectRatio: false,
      animation: false,
      devicePixelRatio: 1,
      events: [],
      layout: { padding: { left: 0, top: spec.plot.t - spec.box.y, right: spec.box.x + spec.box.w - spec.plot.r, bottom: 0 } },
      plugins: { legend: { display: false }, tooltip: { enabled: false }, title: { display: false } },
      scales: {
        x: {
          type: "linear", position: "bottom", min: spec.xr[0], max: spec.xr[1],
          afterBuildTicks: (s: any) => { s.ticks = spec.xTicks.map((v: number) => ({ value: v })); },
          afterFit: (s: any) => { s.height = spec.box.y + spec.box.h - spec.plot.b; },
          ticks: { autoSkip: false, maxRotation: 0, minRotation: 0, padding: spec.xTickPad, color: DARK, font: { size: 12, family: FONT }, callback: (_v: any, i: number) => spec.xLabels[i] },
          grid: gridOpts,
          border: { display: false },
          title: { display: true, text: spec.xTitle, color: "#000", font: { size: spec.xTitleSize, family: FONT, lineHeight: 1 }, padding: { top: 0, bottom: spec.xTitlePad } },
        },
        y: {
          type: "linear", position: "left", min: spec.yr[0], max: spec.yr[1],
          afterBuildTicks: (s: any) => { s.ticks = spec.yTicks.map((v: number) => ({ value: v })); },
          afterFit: (s: any) => { s.width = spec.plot.l - spec.box.x; },
          ticks: { display: !!spec.yLabels, autoSkip: false, padding: spec.yTickPad, color: DARK, font: { size: 12, family: FONT }, callback: (_v: any, i: number) => (spec.yLabels ? spec.yLabels[i] : "") },
          grid: gridOpts,
          border: { display: false },
          title: { display: !!spec.yTitle, text: spec.yTitle, color: "#000", font: { size: spec.yTitleSize, family: FONT, lineHeight: 1 }, padding: { top: spec.yTitlePad, bottom: 0 } },
        },
      },
    },
    plugins: [decorPlugin(spec)],
  };
}

function Panel({ spec }: { spec: any }) {
  const ref = useRef<HTMLCanvasElement>(null);
  useEffect(() => {
    const c = ref.current;
    if (!c) return;
    const chart = new Chart(c, buildConfig(spec) as any);
    return () => chart.destroy();
  }, [spec]);
  return (
    <canvas
      ref={ref}
      width={spec.box.w}
      height={spec.box.h}
      style={{ position: "absolute", left: spec.box.x, top: spec.box.y, width: spec.box.w, height: spec.box.h }}
    />
  );
}

export default function App() {
  return (
    <div style={{ position: "absolute", left: 0, top: 0, width: 999, height: 1167, background: "#ffffff", overflow: "hidden" }}>
      {PANELS.map((p) => (
        <Panel key={p.id} spec={p} />
      ))}
    </div>
  );
}
